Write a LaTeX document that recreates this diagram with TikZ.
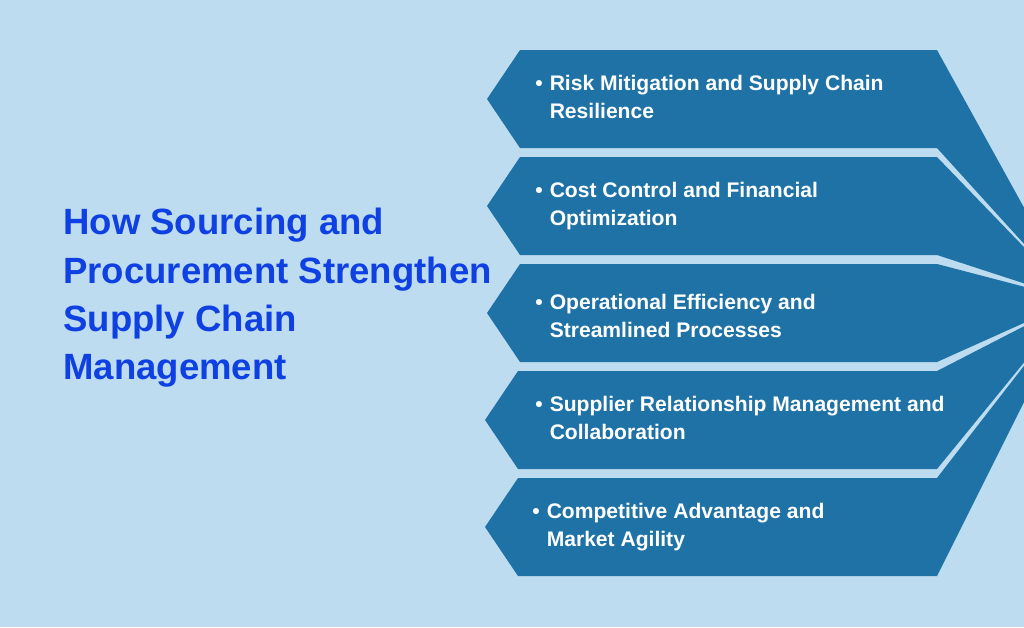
\documentclass[tikz,border=0pt]{standalone}
\usepackage{fontspec}
\setmainfont{Liberation Sans}
\definecolor{pagebg}{HTML}{BDDCF0}
\definecolor{bandblue}{HTML}{1F72A6}
\definecolor{titleblue}{HTML}{0F40E2}
\tikzset{
	% ------- custom
	band/.style={
		fill=bandblue,
	},
	band text/.style={
		anchor=west, text=white, inner sep=0pt,
		font=\bfseries\fontsize{12}{16}\selectfont,
	},
	title/.style={
		anchor=west, text=titleblue, inner sep=0pt, align=left,
		font=\bfseries\fontsize{20.8}{27.5}\selectfont,
	},
}
\newcommand{\bandlines}[2]{%
	\begin{tabular}{@{}l@{\hspace{4pt}}l@{}}\textbullet & #1\\ & #2\end{tabular}}

\begin{document}
\begin{tikzpicture}[x=0.02cm, y=-0.02cm]

% canvas %{{{1

	\fill[pagebg] (0,0) rectangle (1024,627);
	\useasboundingbox (0,0) rectangle (1024,627);
	\clip (0,0) rectangle (1024,627);

% parameters %{{{1

	\coordinate (F) at (1075,300);

% bands %{{{1

	\foreach \top/\tip/\cor [count=\i] in {50/487/520, 157/487/520, 264/487/520, 371/485/518, 478/485/518}{
		\pgfmathsetmacro{\bot}{\top+98}
		\pgfmathsetmacro{\mid}{\top+49}
		\fill[band] (\tip,\mid) -- (\cor,\top) -- (937,\top) -- (F)
			-- (937,\bot) -- (\cor,\bot) -- cycle;
	}

% band labels %{{{1

	\node[band text] (risk) at (535,99)
		{\bandlines{Risk Mitigation and Supply Chain}{Resilience}};
	\node[band text] (cost) at (535,206)
		{\bandlines{Cost Control and Financial}{Optimization}};
	\node[band text] (oper) at (535,318)
		{\bandlines{Operational Efficiency and}{Streamlined Processes}};
	\node[band text] (supp) at (535,420)
		{\bandlines{Supplier Relationship Management and}{Collaboration}};
	\node[band text] (comp) at (532,527)
		{\bandlines{Competitive Advantage and}{Market Agility}};

% title %{{{1

	\node[title] (head) at (63,298)
		{How Sourcing and\\Procurement Strengthen\\Supply Chain\\Management};

% closing %{{{1

\end{tikzpicture}
\end{document}
